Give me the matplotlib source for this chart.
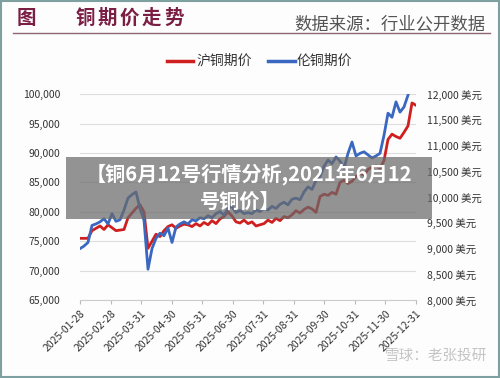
import numpy as np
import matplotlib
matplotlib.use("Agg")
import matplotlib.pyplot as plt
from matplotlib.ticker import FuncFormatter
from matplotlib.patches import Rectangle

plt.rcParams['font.family'] = ['Noto Sans CJK SC', 'DejaVu Sans']

# 月份刻度
months = ['2025-01-28', '2025-02-28', '2025-03-31', '2025-04-30', '2025-05-31',
          '2025-06-30', '2025-07-31', '2025-08-31', '2025-09-30', '2025-10-31',
          '2025-11-30', '2025-12-31']

# 沪铜期价 (元/吨)
shfe = [75500, 75500, 75500, 76800, 77200, 77600, 77000, 77800, 77300, 76800,
        76900, 77000, 79000, 79800, 80600, 81200, 80000, 73800, 75000, 76200,
        75800, 76800, 77500, 77800, 77200, 77600, 77900, 77800, 77500, 78000,
        77600, 78200, 77800, 78500, 78000, 78800, 79200, 80000, 79300, 78300,
        78100, 78600, 78000, 78300, 77600, 77800, 78000, 78600, 78200, 78900,
        78500, 79200, 79000, 79500, 80200, 79800, 80400, 80800, 80500, 79900,
        82600, 83000, 82800, 83300, 83000, 85000, 85400, 84800, 85200, 86000,
        86600, 86200, 87200, 87600, 87800, 87400, 88700, 92300, 93200, 92800,
        92500, 93500, 94600, 98500, 98100]

# 伦铜期价 (美元/吨)
lme = [9000, 9050, 9120, 9450, 9480, 9520, 9580, 9480, 9680, 9530,
       9560, 9750, 9980, 10050, 10100, 9780, 9550, 8600, 9000, 9200,
       9300, 9250, 9400, 9120, 9420, 9480, 9520, 9480, 9560, 9540,
       9600, 9580, 9640, 9600, 9680, 9720, 9650, 9780, 9820, 9700,
       9740, 9680, 9700, 9680, 9750, 9720, 9780, 9750, 9820, 9780,
       9860, 9900, 9850, 9960, 9980, 9950, 10100, 10200, 10150, 10320,
       10400, 10600, 10720, 10650, 10780, 10700, 10560, 10850, 11070, 10800,
       10850, 10880, 10820, 10760, 10800, 10850, 11200, 11630, 11550, 11850,
       11650, 11750, 11980]

step = 11 / 84
x_shfe = np.arange(len(shfe)) * step
x_lme = np.arange(len(lme)) * step

fig = plt.figure(figsize=(5, 3.78), dpi=100)
fig.patch.set_facecolor('#fdfdfd')

ax = fig.add_axes([0.16, 0.206, 0.672, 0.545])
ax2 = ax.twinx()

ax.plot(x_shfe, shfe, color='#d01f1f', lw=2.0, zorder=3)
ax2.plot(x_lme, lme, color='#3a68c0', lw=2.0, zorder=3)

ax.set_xlim(0, 11)
ax.set_ylim(65000, 100000)
ax2.set_ylim(8000, 12000)
ax.set_yticks(np.arange(65000, 100001, 5000))
ax2.set_yticks(np.arange(8000, 12001, 500))
ax.yaxis.set_major_formatter(FuncFormatter(lambda v, p: f'{int(v):,}'))
ax2.yaxis.set_major_formatter(FuncFormatter(lambda v, p: f'{int(v):,} 美元'))

ax.set_xticks(range(len(months)))
ax.set_xticklabels(months, rotation=45, ha='right', rotation_mode='anchor',
                   fontsize=7.5, color='#333333')
ax.tick_params(axis='x', length=3, color='#bbbbbb', pad=3)
ax.tick_params(axis='y', length=0, labelsize=7.5, labelcolor='#333333', pad=14)
ax2.tick_params(axis='y', length=0, labelsize=7.5, labelcolor='#333333', pad=8)

ax.grid(axis='y', color='#dddddd', lw=0.8)
ax.set_axisbelow(True)
for a in (ax, ax2):
    for s in ('top', 'left', 'right'):
        a.spines[s].set_visible(False)
    a.spines['bottom'].set_color('#cccccc')
ax2.spines['bottom'].set_visible(False)
ax.set_facecolor('none')

# 标题
fig.text(0.034, 0.952, '图', fontsize=14, fontweight='bold', color='#7a1e44', va='center')
for i, ch in enumerate('铜期价走势'):
    fig.text((76 + i * 22) / 500, 0.952, ch, fontsize=14, fontweight='bold',
             color='#7a1e44', va='center')
fig.text(0.97, 0.935, '数据来源：行业公开数据', fontsize=12.5, color='#555555',
         ha='right', va='center')
fig.add_artist(plt.Line2D([0.025, 0.98], [0.912, 0.912], color='#8c6474', lw=1))

# 图例
ly = 1 - 61 / 378
fig.add_artist(plt.Line2D([167 / 500, 193 / 500], [ly, ly], color='#d01f1f', lw=2.5))
fig.text(196 / 500, ly, '沪铜期价', fontsize=10, color='#333333', va='center')
fig.add_artist(plt.Line2D([268 / 500, 295 / 500], [ly, ly], color='#3a68c0', lw=2.5))
fig.text(297 / 500, ly, '伦铜期价', fontsize=10, color='#333333', va='center')

# 横幅
fig.add_artist(Rectangle((66 / 500, 1 - 219 / 378), 366 / 500, 62 / 378,
                         transform=fig.transFigure, facecolor='#6a6a6a',
                         alpha=0.72, edgecolor='none', zorder=10))
fig.text(249 / 500, 1 - 174 / 378, '【铜6月12号行情分析,2021年6月12', fontsize=14.5,
         fontweight='bold', color='white', ha='center', va='center', zorder=11)
fig.text(240 / 500, 1 - 201 / 378, '号铜价】', fontsize=14.5, fontweight='bold',
         color='white', ha='center', va='center', zorder=11)

# 水印
fig.text(0.974, 1 - 356 / 378, '雪球：老张投研', fontsize=10.5, color='#c4c4c4',
         ha='right', va='center')

# 外框
fig.add_artist(Rectangle((0.002, 0.003), 0.996, 0.994, transform=fig.transFigure,
                         facecolor='none', edgecolor='#7fa0a0', lw=1.5))

fig.savefig('out.png', dpi=100, facecolor=fig.get_facecolor())
